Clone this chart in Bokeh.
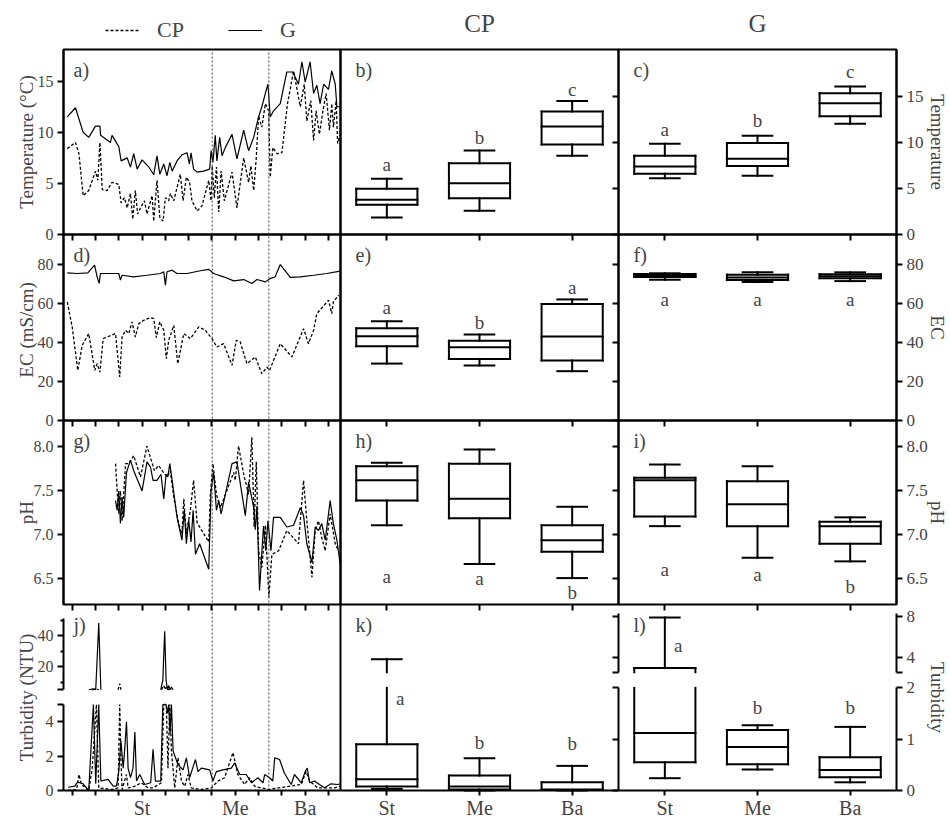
import numpy as np
from bokeh.plotting import figure
from bokeh.models import (Range1d, LinearAxis, FixedTicker, Label, Legend, LegendItem, Grid,
                          NumeralTickFormatter)
from bokeh.embed import file_html
from bokeh.resources import INLINE

FONT = "Liberation Serif"

# ------------------------------------------------------------------ data
categories = ["St", "Me", "Ba"]
period_ticks = list(range(0, 111, 10))
period_labels = {30: "St", 70: "Me", 100: "Ba"}
season_breaks = [60.1, 84.4]

temp_G_x = [-2.1, 1.4, 4.7, 7.1, 10.0, 11.9, 12.2, 16.4, 17.1, 20.0, 21.0, 23.6, 25.0, 26.4, 27.9, 30.0,
            32.9, 35.0, 36.4, 37.6, 39.3, 40.7, 41.9, 42.9, 45.0, 47.1, 49.3, 50.3, 51.0, 52.1, 53.6, 56.4,
            59.0, 59.6, 60.4, 61.4, 62.1, 63.3, 64.3, 65.7, 68.6, 70.7, 73.6, 75.7, 77.9, 80.0, 81.4, 82.9,
            84.0, 85.0, 86.4, 89.3, 92.1, 94.7, 97.1, 98.6, 100.0, 102.1, 103.6, 105.0, 106.4, 107.9, 110.0,
            111.4, 112.9, 113.6, 115.0]
temp_G = [11.5, 12.4, 10.0, 9.5, 10.6, 10.6, 9.7, 9.0, 9.7, 8.6, 7.2, 7.5, 6.6, 7.9, 6.4, 7.3,
          6.6, 5.85, 7.7, 5.9, 6.9, 5.75, 7.06, 6.2, 7.2, 7.8, 8.0, 6.9, 8.0, 6.4, 6.1, 6.2,
          6.4, 8.2, 7.06, 9.7, 7.2, 9.5, 7.7, 8.5, 9.8, 7.4, 10.2, 8.2, 9.5, 11.5, 12.5, 13.8,
          14.7, 11.5, 12.1, 12.8, 15.9, 15.9, 14.7, 16.9, 14.9, 16.9, 13.8, 14.6, 12.8, 14.7, 14.2,
          16.0, 14.7, 12.5, 12.5]
temp_CP_x = [-2.1, 1.4, 2.9, 4.7, 7.1, 10.0, 11.0, 11.9, 12.9, 15.0, 17.1, 20.0, 21.0, 22.4, 23.6, 25.0,
             26.0, 27.1, 28.1, 29.3, 31.0, 32.1, 34.3, 35.0, 36.4, 37.6, 39.0, 40.0, 41.4, 42.1, 43.6, 46.4,
             47.6, 49.0, 50.4, 51.4, 53.6, 55.7, 58.6, 59.6, 60.1, 61.0, 61.9, 62.9, 63.9, 65.3, 68.6, 70.7,
             73.6, 75.7, 76.7, 77.9, 79.0, 80.0, 81.4, 82.9, 84.3, 85.0, 86.1, 87.9, 90.0, 92.4, 95.0, 97.9,
             99.6, 100.7, 102.4, 103.6, 104.7, 106.1, 107.6, 109.0, 110.4, 111.4, 112.1, 113.3, 113.9, 115.0]
temp_CP = [8.4, 9.0, 7.9, 3.8, 4.3, 6.2, 5.3, 9.0, 4.4, 4.3, 5.1, 4.9, 3.1, 3.6, 2.6, 4.0,
           1.5, 4.3, 2.0, 2.6, 3.3, 2.0, 3.8, 1.3, 5.3, 1.7, 1.3, 3.6, 3.3, 4.0, 3.3, 5.9,
           3.3, 5.6, 5.1, 3.3, 2.3, 2.8, 5.3, 3.3, 6.7, 3.6, 6.6, 2.2, 6.2, 3.3, 6.1, 2.6,
           7.5, 5.1, 6.7, 4.3, 7.5, 11.6, 10.5, 12.8, 12.1, 5.6, 8.5, 7.9, 8.0, 12.8, 16.0, 12.5,
           14.7, 11.1, 13.1, 9.2, 12.1, 9.8, 12.1, 13.8, 10.2, 12.8, 10.5, 13.1, 8.9, 9.8]

ec_G_x = [-2.1, 2.1, 6.7, 9.6, 10.7, 11.6, 12.1, 16.4, 20.0, 20.7, 21.4, 26.4, 32.1, 37.9, 39.3, 40.0,
          40.7, 42.9, 45.0, 49.3, 55.0, 58.6, 60.7, 65.0, 69.3, 73.6, 77.1, 79.3, 82.9, 85.0, 87.1, 89.3,
          93.6, 97.9, 103.6, 109.3, 115.0]
ec_G = [75.7, 75.4, 75.7, 79.7, 73.7, 70.3, 75.4, 75.4, 75.4, 72.0, 74.5, 73.7, 74.5, 75.4, 76.3, 69.4,
        76.3, 77.1, 75.4, 75.4, 76.8, 77.5, 75.4, 73.7, 71.6, 72.3, 70.3, 72.3, 71.1, 72.8, 73.7, 80.0,
        73.4, 73.7, 74.5, 75.4, 76.6]
ec_CP_x = [-2.1, 0.0, 2.4, 4.3, 7.1, 9.7, 10.7, 11.9, 13.3, 18.6, 20.4, 21.4, 22.9, 24.3, 25.7, 27.1,
           28.6, 30.7, 33.6, 35.0, 36.1, 37.6, 39.3, 40.4, 41.4, 43.6, 45.3, 47.9, 50.7, 54.3, 57.1, 60.0,
           62.1, 65.0, 68.6, 70.4, 72.1, 75.0, 78.6, 81.4, 83.6, 84.7, 89.3, 94.3, 99.3, 101.4, 103.6, 105.0,
           110.0, 111.4, 112.1, 114.3]
ec_CP = [60.8, 48.0, 25.7, 38.6, 44.6, 25.7, 29.1, 24.8, 42.0, 44.6, 22.3, 42.8, 46.3, 44.6, 50.6, 42.8,
         49.7, 51.4, 52.8, 52.3, 42.5, 50.6, 46.3, 31.7, 41.1, 48.8, 29.1, 44.6, 42.0, 48.0, 46.3, 42.0,
         37.7, 39.4, 28.3, 41.1, 40.3, 29.1, 32.6, 24.0, 27.4, 25.7, 39.4, 32.6, 47.1, 39.4, 46.3, 54.8,
         61.7, 54.8, 60.8, 64.3]

ph_G_x = [18.6, 19.3, 20.0, 20.7, 21.4, 22.1, 23.3, 25.0, 26.4, 30.0, 32.1, 33.6, 34.7, 36.4, 38.1, 39.3,
          40.3, 41.0, 41.9, 42.9, 45.0, 47.1, 48.1, 49.0, 50.0, 51.0, 51.9, 52.9, 54.7, 58.6, 59.6, 60.7,
          61.9, 62.9, 63.9, 68.6, 70.7, 74.3, 75.7, 77.9, 78.6, 79.3, 80.4, 82.1, 83.1, 84.0, 85.3, 86.4,
          89.3, 92.1, 95.0, 97.9, 99.3, 100.7, 102.9, 104.3, 105.7, 107.1, 108.6, 110.7, 112.1, 113.6, 115.0]
ph_G = [7.38, 7.27, 7.49, 7.12, 7.42, 7.19, 7.70, 7.84, 7.72, 7.49, 7.82, 7.76, 7.61, 7.61, 7.68, 7.40,
        7.68, 7.65, 7.80, 7.61, 7.19, 6.93, 7.27, 6.89, 7.16, 6.91, 7.27, 6.77, 6.89, 6.60, 7.49, 7.70,
        7.27, 7.38, 7.23, 7.80, 7.82, 7.21, 7.59, 7.30, 7.05, 7.32, 6.36, 7.09, 6.81, 7.15, 6.81, 7.19,
        7.19, 7.08, 7.10, 7.30, 7.21, 6.89, 6.68, 7.08, 7.04, 7.12, 6.93, 7.38, 7.12, 6.93, 6.66]
ph_CP_x = [18.6, 19.3, 20.0, 20.7, 21.4, 22.9, 24.3, 26.4, 29.3, 32.1, 33.9, 35.3, 37.1, 38.6, 40.7, 42.1,
           43.6, 45.7, 47.1, 47.9, 49.0, 50.7, 52.1, 53.6, 58.6, 59.3, 60.4, 61.9, 63.6, 69.3, 70.0, 71.4,
           73.6, 75.7, 77.1, 78.1, 79.0, 80.0, 81.4, 82.9, 83.6, 84.4, 85.7, 88.6, 92.1, 97.1, 99.3, 100.7,
           102.9, 104.3, 105.7, 107.1, 108.6, 110.7, 112.9, 114.3]
ph_CP = [7.80, 7.49, 7.23, 7.49, 7.15, 7.80, 7.80, 7.89, 7.65, 8.00, 7.84, 7.72, 7.78, 7.72, 7.65, 7.72,
         7.42, 7.12, 7.00, 7.40, 7.00, 7.27, 7.61, 7.13, 6.91, 7.45, 7.80, 7.45, 7.30, 7.70, 7.61, 8.00,
         7.68, 7.45, 8.10, 7.08, 7.82, 6.81, 6.62, 7.10, 6.74, 6.28, 6.77, 6.81, 7.04, 6.89, 7.61, 7.15,
         6.51, 7.04, 7.15, 6.96, 6.81, 7.23, 6.89, 6.81]

turb_G_x = [-1.7, 1.1, 2.3, 4.7, 7.1, 9.1, 10.1, 11.4, 12.3, 15.4, 17.6, 19.0, 20.0, 20.9, 21.9, 22.6,
            23.3, 24.0, 25.0, 26.1, 26.9, 27.6, 29.0, 31.1, 33.7, 34.7, 35.7, 38.0, 38.9, 39.1, 39.7, 40.3,
            40.9, 41.4, 42.0, 42.6, 43.3, 45.4, 47.6, 49.0, 50.4, 52.9, 54.0, 55.4, 59.0, 60.4, 61.9, 64.7,
            68.3, 69.7, 71.9, 74.7, 76.9, 79.7, 81.9, 82.6, 84.7, 86.1, 86.9, 89.0, 91.1, 94.0, 95.4, 98.3,
            100.0, 100.9, 101.9, 104.0, 106.1, 108.3, 111.1, 114.0, 115.0]
turb_G = [0.19, 0.25, 0.49, 0.39, 0.0, 5.6, 0.4, 48.0, 0.55, 0.65, 0.25, 0.25, 1.1, 2.9, 1.3, 2.5,
          4.0, 1.3, 0.75, 1.3, 3.4, 0.55, 0.93, 0.35, 0.45, 2.4, 0.55, 0.55, 11.0, 19.6, 42.8, 11.0,
          4.5, 7.7, 3.3, 6.7, 2.3, 1.5, 1.2, 1.9, 0.75, 1.8, 1.1, 1.3, 1.2, 0.55, 1.1, 1.2,
          1.3, 1.6, 0.93, 0.93, 0.45, 0.74, 0.45, 0.93, 0.74, 0.55, 1.9, 1.8, 1.0, 0.35, 0.93, 0.45,
          1.1, 1.3, 0.45, 0.55, 0.35, 0.16, 0.39, 0.35, 0.39]
turb_CP_x = [-1.7, 1.9, 2.9, 4.0, 7.1, 8.6, 10.4, 11.4, 16.9, 19.7, 20.4, 20.9, 21.4, 23.3, 24.0, 26.9,
             29.7, 32.6, 34.7, 38.3, 39.3, 40.0, 40.4, 41.1, 41.9, 42.6, 44.0, 45.4, 46.9, 48.3, 49.7, 51.1,
             55.4, 59.7, 62.6, 65.4, 69.0, 71.1, 74.0, 76.1, 78.3, 81.1, 84.7, 88.3, 98.3, 100.4, 101.9, 105.4,
             109.7, 112.6, 115.0]
turb_CP = [0.0, 0.06, 0.93, 0.35, 0.0, 1.3, 5.5, 0.15, 0.06, 0.15, 9.0, 1.9, 0.06, 0.93, 0.15, 0.25,
           0.45, 0.15, 0.15, 0.45, 7.7, 5.0, 6.7, 1.3, 5.6, 2.3, 0.15, 1.9, 0.55, 0.25, 0.93, 0.15,
           0.06, 0.15, 0.55, 0.74, 2.2, 0.93, 0.35, 0.74, 0.25, 0.15, 0.06, 0.15, 0.35, 1.1, 0.55, 0.15,
           0.15, 0.15, 0.25]

# box-plot statistics per period (St, Me, Ba): whisker low, Q1, median, Q3, whisker high
box_temp_CP = dict(lo=[1.85, 2.57, 8.55], q1=[3.23, 3.95, 9.78], med=[3.77, 5.58, 11.74], q3=[4.96, 7.75, 13.37], hi=[6.05, 9.13, 14.5])
box_temp_G = dict(lo=[6.12, 6.38, 12.03], q1=[6.6, 7.43, 12.86], med=[7.39, 8.22, 14.27], q3=[8.55, 9.93, 15.36], hi=[9.86, 10.72, 16.09])
box_ec_CP = dict(lo=[29.2, 28.2, 25.3], q1=[38.1, 31.6, 30.8], med=[43.2, 37.6, 43.1], q3=[47.3, 40.9, 59.7], hi=[50.9, 44.1, 62.1])
box_ec_G = dict(lo=[72.2, 71.0, 71.5], q1=[73.6, 72.0, 73.0], med=[74.3, 73.3, 74.0], q3=[75.2, 74.8, 75.0], hi=[75.5, 76.0, 76.0])
box_ph_CP = dict(lo=[7.10, 6.66, 6.50], q1=[7.38, 7.18, 6.80], med=[7.61, 7.40, 6.93], q3=[7.77, 7.80, 7.10], hi=[7.81, 7.96, 7.31])
box_ph_G = dict(lo=[7.09, 6.73, 6.69], q1=[7.20, 7.09, 6.89], med=[7.61, 7.34, 7.09], q3=[7.64, 7.60, 7.14], hi=[7.79, 7.77, 7.19])
box_turb_CP = dict(lo=[0.03, 0.0, 0.0], q1=[0.08, 0.02, 0.01], med=[0.22, 0.08, 0.02], q3=[0.9, 0.29, 0.16], hi=[3.8, 0.63, 0.48])
box_turb_G = dict(lo=[0.24, 0.41, 0.16], q1=[0.55, 0.51, 0.26], med=[1.12, 0.85, 0.40], q3=[2.93, 1.18, 0.65], hi=[7.9, 1.27, 1.24])

# significance letters and the value at which each is written
let_temp_CP, let_temp_CP_y = ["a", "b", "c"], [7.6, 10.5, 15.7]
let_temp_G, let_temp_G_y = ["a", "b", "c"], [11.4, 12.4, 17.75]
let_ec_CP, let_ec_CP_y = ["a", "b", "a"], [58.1, 50.4, 68.4]
let_ec_G, let_ec_G_y = ["a", "a", "a"], [62.0, 62.0, 62.0]
let_ph_CP, let_ph_CP_y = ["a", "a", "b"], [6.52, 6.50, 6.34]
let_ph_G, let_ph_G_y = ["a", "a", "b"], [6.60, 6.54, 6.41]
let_turb_CP, let_turb_CP_y = ["a", "b", "b"], [1.79, 0.94, 0.91]
let_turb_G, let_turb_G_y = ["a", "b", "b"], [5.15, 1.62, 1.61]

# ------------------------------------------------------------------ layout (whole canvas is the frame)
W, H = 950, 820
FL, FR, FT, FB = 0, W, 0, H
COLS = [(63, 340), (340, 618), (618, 896)]
ROWS = [(49, 234), (234, 420), (420, 604), (604, 790)]


def xr(col, d0, d1):
    a, b = COLS[col]
    s = (b - a) / (d1 - d0)
    r0 = d0 - (a - FL) / s
    return Range1d(r0, r0 + (FR - FL) / s)


def yr(v0, py0, v1, py1):
    s = (py0 - py1) / (v1 - v0)
    r0 = v0 - (FB - py0) / s
    return Range1d(r0, r0 + (FB - FT) / s)


XL = (-3.73, 115.15)
p = figure(width=W, height=H, x_range=Range1d(0, W), y_range=Range1d(0, H),
           output_backend="svg", toolbar_location=None, x_axis_location=None, y_axis_location=None,
           title_location=None, min_border=0)
p.outline_line_color = None
p.background_fill_color = "white"
p.border_fill_color = "white"
for g_ in p.select(type=Grid):
    g_.visible = False

Y_TEMP_L = (0, 18.1)
Y_TEMP_R = (0, 20.1)
Y_EC = (0, 95.4)
Y_PH = (6.2, 8.29)
p.extra_x_ranges = {"x0": xr(0, *XL), "x1": xr(1, 0, 3), "x2": xr(2, 0, 3)}
p.extra_y_ranges = {
    "ya": yr(Y_TEMP_L[0], ROWS[0][1], Y_TEMP_L[1], ROWS[0][0]),
    "ybc": yr(Y_TEMP_R[0], ROWS[0][1], Y_TEMP_R[1], ROWS[0][0]),
    "yec": yr(Y_EC[0], ROWS[1][1], Y_EC[1], ROWS[1][0]),
    "yph": yr(Y_PH[0], ROWS[2][1], Y_PH[1], ROWS[2][0]),
    "jlo": yr(0, 790, 5, 704),
    "jhi": yr(20, 666, 40, 635),
    "tlo": yr(0, 790, 2, 687.4),
    "thi": yr(4, 656.7, 8, 616),
}
JLO = (0, 10.81)
TLO = (0, 3.626)


def axis(side, xn, yn, fixed, ticks=(), labels=None, bounds=None, tout=6, minor=(), mtout=0,
         line=True, title=None, standoff=0, fs="16px", fmt=None, lstand=4):
    ax = LinearAxis(x_range_name=xn, y_range_name=yn, fixed_location=fixed,
                    ticker=FixedTicker(ticks=list(ticks), minor_ticks=list(minor)))
    if bounds is not None:
        ax.bounds = tuple(bounds)
    if fmt is not None:
        ax.formatter = NumeralTickFormatter(format=fmt)
    ax.major_tick_out, ax.major_tick_in = tout, 0
    ax.minor_tick_out, ax.minor_tick_in = mtout, 0
    ax.major_tick_line_width = 2
    ax.minor_tick_line_width = 2
    ax.axis_line_width = 2
    if not line:
        ax.axis_line_color = None
    ax.major_label_overrides = {t: "" for t in ticks} if labels is None else labels
    ax.major_label_text_font = FONT
    ax.major_label_text_font_size = fs
    ax.major_label_standoff = lstand
    if title:
        ax.axis_label = title
        ax.axis_label_standoff = standoff
        ax.axis_label_text_font = FONT
        ax.axis_label_text_font_size = "19px"
        ax.axis_label_text_font_style = "normal"
    p.add_layout(ax, side)
    return ax


def frame(xn, yn, x0, x1, y0, y1):
    p.quad(left=[x0], right=[x1], bottom=[y0], top=[y1], fill_color=None, line_color="black",
           line_width=2, x_range_name=xn, y_range_name=yn)


BOX_W, CAP_W = 0.66, 0.32


def seg(xn, yn, x0, y0, x1, y1, **kw):
    x0, y0, x1, y1 = map(np.asarray, (x0, y0, x1, y1))
    m = (np.abs(y1 - y0) > 1e-9) | (np.abs(x1 - x0) > 1e-9)
    if m.any():
        style = dict(line_color="black", line_width=2, line_cap="square")
        style.update(kw)
        p.segment(x0=x0[m], y0=y0[m], x1=x1[m], y1=y1[m], x_range_name=xn, y_range_name=yn, **style)


def boxes(xn, yn, st, clip=(-np.inf, np.inf)):
    lo, q1, md, q3, hi = [np.asarray(st[k], float) for k in ("lo", "q1", "med", "q3", "hi")]
    xs = np.arange(len(lo)) + 0.5
    cl, ch = clip
    c = lambda v: np.clip(v, cl, ch)
    ins = lambda v: (v >= cl) & (v <= ch)
    for sx in (xs - BOX_W / 2, xs + BOX_W / 2):
        seg(xn, yn, sx, c(q1), sx, c(q3))
    seg(xn, yn, xs, c(q3), xs, c(hi))
    seg(xn, yn, xs, c(lo), xs, c(q1))
    for v, w in ((q1, BOX_W), (md, BOX_W), (q3, BOX_W), (lo, CAP_W), (hi, CAP_W)):
        m = ins(v)
        seg(xn, yn, xs[m] - w / 2, v[m], xs[m] + w / 2, v[m])


def letters(xn, yns, texts, ys, first_left=False):
    for i, (t, y) in enumerate(zip(texts, ys)):
        left = first_left and i == 0
        yn = yns[i] if isinstance(yns, (list, tuple)) else yns
        p.add_layout(Label(x=i + (0.6 if left else 0.5), y=y, text=t, x_range_name=xn, y_range_name=yn,
                           text_align="left" if left else "center", text_baseline="middle",
                           text_font=FONT, text_font_size="19px"))


def series(x, y, yn, dashed):
    n = min(len(x), len(y))
    return p.line(x[:n], y[:n], x_range_name="x0", y_range_name=yn, line_color="black",
                  line_width=1.3 if dashed else 1.2, line_dash="3 2" if dashed else "solid")


cat_x = [0.5, 1.5, 2.5]
cat_labels = {0.5: categories[0], 1.5: categories[1], 2.5: categories[2]}

# ------------------------------------------------------------------ rows 1-3
rows_spec = [
    ("ya", "ybc", Y_TEMP_L, Y_TEMP_R, [0, 5, 10, 15], None, "Temperature (°C)", "Temperature",
     (temp_CP_x, temp_CP, temp_G_x, temp_G), box_temp_CP, box_temp_G,
     (let_temp_CP, let_temp_CP_y), (let_temp_G, let_temp_G_y)),
    ("yec", "yec", Y_EC, Y_EC, [0, 20, 40, 60, 80], None, "EC  (mS/cm)", "EC",
     (ec_CP_x, ec_CP, ec_G_x, ec_G), box_ec_CP, box_ec_G,
     (let_ec_CP, let_ec_CP_y), (let_ec_G, let_ec_G_y)),
    ("yph", "yph", Y_PH, Y_PH, [6.5, 7.0, 7.5, 8.0], "0.0", "pH", "pH",
     (ph_CP_x, ph_CP, ph_G_x, ph_G), box_ph_CP, box_ph_G,
     (let_ph_CP, let_ph_CP_y), (let_ph_G, let_ph_G_y)),
]

legend_renderers = None
for r, (yl, yb, YL, YB, tk, fmt, ttl_l, ttl_r, ts, bcp, bg, lcp, lg) in enumerate(rows_spec):
    frame("x0", yl, XL[0], XL[1], YL[0], YL[1])
    frame("x1", yb, 0, 3, YB[0], YB[1])
    frame("x2", yb, 0, 3, YB[0], YB[1])
    cp = series(ts[0], ts[1], yl, True)
    g = series(ts[2], ts[3], yl, False)
    if r == 0:
        legend_renderers = (cp, g)
    axis("left", "x0", yl, XL[0], ticks=tk, labels={}, bounds=YL, fmt=fmt)
    axis("left", "x0", yl, XL[0], ticks=[], bounds=YL, tout=0, line=False, title=ttl_l, standoff=27)
    axis("below", "x0", yl, YL[0], ticks=period_ticks, bounds=XL, line=False)
    axis("below", "x1", yb, YB[0], ticks=cat_x, bounds=(0, 3), line=False)
    axis("left", "x2", yb, 0, ticks=tk, bounds=YB, line=False)
    axis("right", "x2", yb, 3, ticks=tk, labels={}, bounds=YB, fs="17px", fmt=fmt)
    axis("right", "x2", yb, 3, ticks=[], bounds=YB, tout=0, line=False, title=ttl_r, standoff=30)
    axis("below", "x2", yb, YB[0], ticks=cat_x, bounds=(0, 3), line=False)
    boxes("x1", yb, bcp)
    boxes("x2", yb, bg)
    letters("x1", yb, *lcp)
    letters("x2", yb, *lg)

# ------------------------------------------------------------------ row 4 (broken axes)
J_CUT = 5.0
T_LO_TOP, T_HI_BOT, T_HI_TOP = 2.0, 2.52, 8.3


def upper_part(v, floor):
    v = np.asarray(v, float)
    out = np.full_like(v, np.nan)
    above = v > floor
    out[above] = v[above]
    nb = np.zeros_like(above)
    nb[:-1] |= above[1:]
    nb[1:] |= above[:-1]
    out[~above & nb] = floor
    return out


for xs_, vs_, dashed in ((turb_CP_x, turb_CP, True), (turb_G_x, turb_G, False)):
    series(xs_, list(np.minimum(np.asarray(vs_, float), J_CUT)), "jlo", dashed)
    series(xs_, list(upper_part(vs_, J_CUT)), "jhi", dashed)

BOTTOM_FS = "20px"
axis("left", "x0", "jlo", XL[0], ticks=[0, 2, 4, 5], labels={5: ""}, bounds=(0, J_CUT))
axis("left", "x0", "jhi", XL[0], ticks=[5, 20, 40], labels={5: ""}, minor=[10, 30, 50], mtout=3,
     bounds=(J_CUT, 50.8))
axis("left", "x0", "jlo", XL[0], ticks=[], bounds=JLO, tout=0, line=False, title="Turbidity (NTU)", standoff=27)
axis("below", "x0", "jlo", 0, ticks=period_ticks, tout=5, lstand=1,
     labels={t: period_labels.get(t, "") for t in period_ticks}, bounds=XL, fs=BOTTOM_FS)

axis("left", "x1", "tlo", 0, ticks=[], bounds=TLO, tout=0)
axis("below", "x1", "tlo", 0, ticks=cat_x, labels=cat_labels, bounds=(0, 3), fs=BOTTOM_FS, tout=5, lstand=1)
boxes("x1", "tlo", box_turb_CP, clip=(0, T_LO_TOP))
boxes("x1", "thi", box_turb_CP, clip=(T_HI_BOT, T_HI_TOP))

axis("left", "x2", "tlo", 0, ticks=[0, 1, 2], bounds=(0, T_LO_TOP))
axis("left", "x2", "thi", 0, ticks=[T_HI_BOT, 4, 8], bounds=(T_HI_BOT, T_HI_TOP))
axis("right", "x2", "tlo", 3, ticks=[0, 1, 2], labels={}, bounds=(0, T_LO_TOP), fs="17px")
axis("right", "x2", "thi", 3, ticks=[T_HI_BOT, 4, 8], labels={T_HI_BOT: ""}, bounds=(T_HI_BOT, T_HI_TOP), fs="17px")
axis("right", "x2", "tlo", 3, ticks=[], bounds=TLO, tout=0, line=False, title="Turbidity", standoff=30)
axis("below", "x2", "tlo", 0, ticks=cat_x, labels=cat_labels, bounds=(0, 3), fs=BOTTOM_FS, tout=5, lstand=1)
boxes("x2", "tlo", box_turb_G, clip=(0, T_LO_TOP))
boxes("x2", "thi", box_turb_G, clip=(T_HI_BOT, T_HI_TOP))

letters("x1", "tlo", let_turb_CP, let_turb_CP_y, first_left=True)
letters("x2", ["thi", "tlo", "tlo"], let_turb_G, let_turb_G_y, first_left=True)

# season boundaries: dotted verticals through the whole time-series column (row 1 top to row 4 bottom)
seg("x0", "default", season_breaks, [H - ROWS[3][1]] * len(season_breaks),
    season_breaks, [H - ROWS[0][0]] * len(season_breaks),
    line_color="#444444", line_width=1, line_dash="2 2", line_cap="butt")

# panel letters
panel_tags = ["a)", "b)", "c)", "d)", "e)", "f)", "g)", "h)", "i)", "j)", "k)", "l)"]
for k, tag in enumerate(panel_tags):
    r, c = divmod(k, 3)
    X = COLS[c][0] + (10 if c == 0 else 15)
    Y = ROWS[r][0] + 9
    p.add_layout(Label(x=X, y=H - Y, text=tag, text_align="left", text_baseline="top",
                       text_font=FONT, text_font_size="20px"))

# column titles
for text, X in (("CP", 479), ("G", 757)):
    p.add_layout(Label(x=X, y=H - 23, text=text, text_align="center", text_baseline="middle",
                       text_font=FONT, text_font_size="25px"))

legend = Legend(items=[LegendItem(label="CP", renderers=[legend_renderers[0]]),
                       LegendItem(label="G", renderers=[legend_renderers[1]])],
                orientation="horizontal", location=(105, H - 43), glyph_width=34, glyph_height=20,
                label_standoff=18, spacing=44, padding=0, margin=0, border_line_color=None,
                background_fill_alpha=0, label_text_font=FONT, label_text_font_size="22px")
p.add_layout(legend)

open("out.html", "w").write(file_html(p, INLINE))
